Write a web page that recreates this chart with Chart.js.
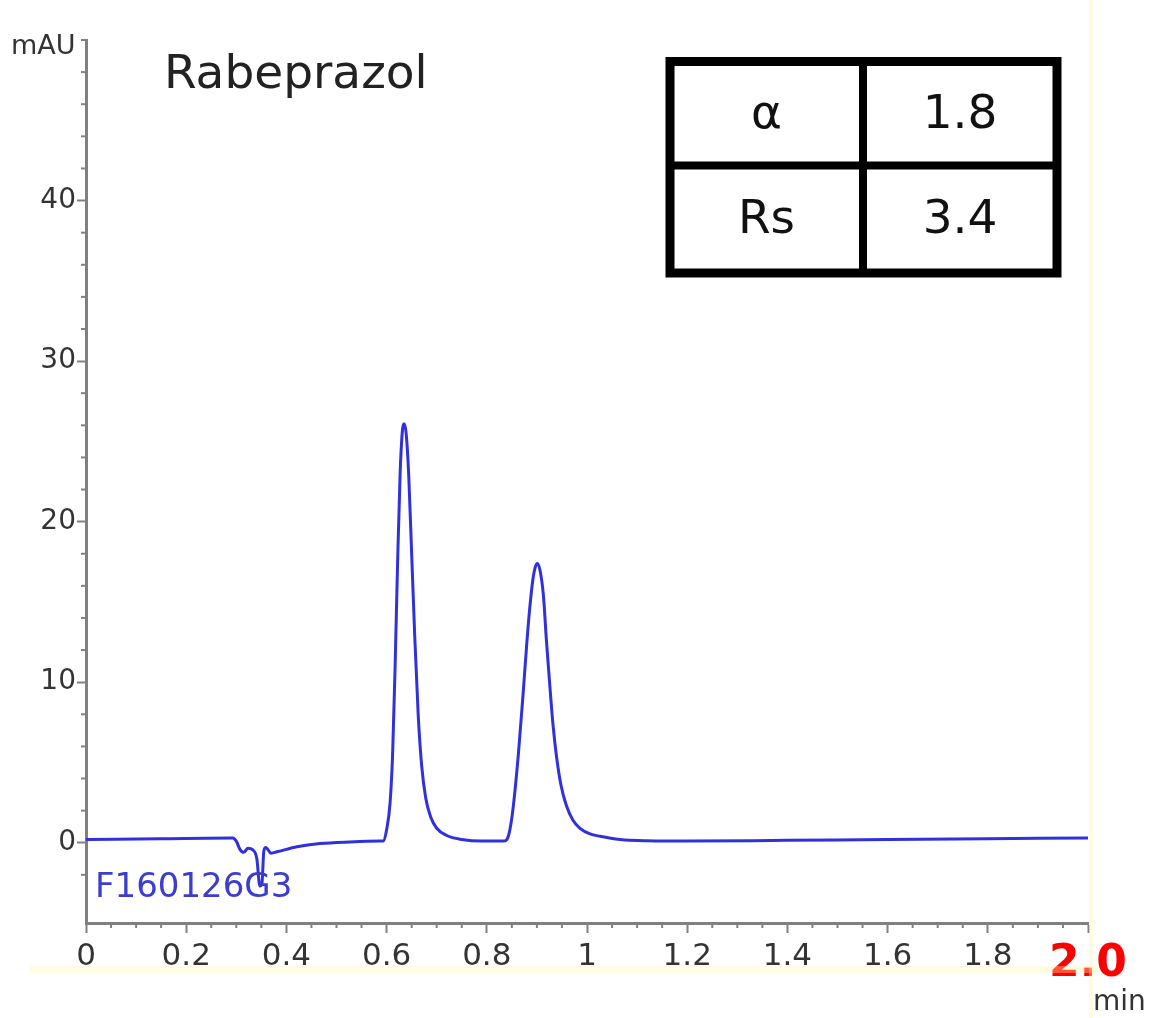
<!DOCTYPE html>
<html>
<head>
<meta charset="utf-8">
<script src="https://cdn.jsdelivr.net/npm/chart.js@4.4.1/dist/chart.umd.min.js"></script>
<style>
  body { margin: 0; background: #fff; }
  #chart { display: block; }
</style>
</head>
<body>
<canvas id="chart" width="1159" height="1018"></canvas>
<script>
// chromatogram trace (time in min, signal in mAU)
const times = [
    0.000, 0.148, 0.293, 0.300, 0.307, 0.315, 0.323, 0.333, 0.341, 0.347,
    0.351, 0.355, 0.359, 0.369, 0.383, 0.421, 0.467, 0.527, 0.587,
    0.593, 0.600, 0.607, 0.612, 0.617, 0.622, 0.627, 0.632, 0.635, 0.639,
    0.644, 0.650, 0.656, 0.663, 0.670, 0.678, 0.688, 0.700, 0.720, 0.750,
    0.790, 0.833,
    0.840, 0.846, 0.853, 0.863, 0.873, 0.880, 0.886, 0.892, 0.897, 0.901,
    0.906, 0.913, 0.919, 0.926, 0.932, 0.939, 0.948, 0.959, 0.972, 0.986,
    1.006, 1.026, 1.066, 1.120, 1.200, 1.400, 1.600, 1.800, 2.000
];
const signal = [
    0.2, 0.25, 0.3, 0.1, -0.4, -0.6, -0.35, -0.45, -1.0, -2.7,
    -2.6, -0.5, -0.3, -0.65, -0.55, -0.25, -0.05, 0.05, 0.1,
    0.1, 0.8, 2.5, 5.5, 11.0, 17.5, 23.0, 25.8, 26.1, 25.5,
    23.0, 18.0, 13.0, 8.0, 4.8, 2.8, 1.6, 0.9, 0.45, 0.2,
    0.1, 0.1,
    0.2, 0.8, 2.3, 5.5, 9.5, 12.5, 14.7, 16.4, 17.2, 17.4,
    17.0, 15.4, 12.6, 9.7, 7.4, 5.4, 3.6, 2.3, 1.4, 0.9,
    0.55, 0.4, 0.2, 0.12, 0.1, 0.15, 0.2, 0.25, 0.3
];

const xTickLabels = ['0', '0.2', '0.4', '0.6', '0.8', '1', '1.2', '1.4', '1.6', '1.8', '2.0'];
const yTickLabels = ['0', '10', '20', '30', '40'];

const tableRows = [
    ['\u03b1', '1.8'],
    ['Rs', '3.4']
];

const axisGray = '#808080';
const labelGray = '#333333';
const traceBlue = '#3030dc';

function isMajorX(v) {
    const i = Math.round(v / 0.2);
    return Math.abs(v - i * 0.2) < 1e-6 && i >= 0 && i < xTickLabels.length;
}
function isMajorY(v) {
    const i = Math.round(v / 10);
    return Math.abs(v - i * 10) < 1e-6 && i >= 0 && i < yTickLabels.length;
}

// short ticks between the labelled ones, plus the texts and the table
const decorations = {
    id: 'decorations',
    afterDraw(chart) {
        const ctx = chart.ctx;
        const xs = chart.scales.x;
        const ys = chart.scales.y;
        const area = chart.chartArea;
        ctx.save();

        // faint yellow scan lines seen in the picture
        ctx.fillStyle = 'rgba(255, 245, 170, 0.35)';
        ctx.fillRect(area.right + 1, 0, 4, chart.height);
        ctx.fillRect(30, 966, area.right - 20, 7);

        ctx.strokeStyle = axisGray;
        ctx.lineWidth = 2;
        xs.ticks.forEach(t => {
            if (isMajorX(t.value)) return;
            const px = xs.getPixelForValue(t.value);
            ctx.beginPath();
            ctx.moveTo(px, area.bottom);
            ctx.lineTo(px, area.bottom + 5);
            ctx.stroke();
        });
        ys.ticks.forEach(t => {
            if (isMajorY(t.value) || Math.abs(t.value % 2) > 1e-6) return;
            const py = ys.getPixelForValue(t.value);
            ctx.beginPath();
            ctx.moveTo(area.left - 5, py);
            ctx.lineTo(area.left, py);
            ctx.stroke();
        });

        ctx.textBaseline = 'alphabetic';
        ctx.textAlign = 'left';

        ctx.fillStyle = labelGray;
        ctx.font = '27px "DejaVu Sans"';
        ctx.fillText('mAU', 11, 54);

        ctx.font = '28px "DejaVu Sans"';
        ctx.fillText('min', 1093, 1010);

        ctx.fillStyle = '#222222';
        ctx.font = '47px "DejaVu Sans"';
        ctx.fillText('Rabeprazol', 164, 88);

        ctx.fillStyle = '#3c3cd0';
        ctx.font = '34px "DejaVu Sans"';
        ctx.fillText('F160126G3', 95, 897);

        // alpha / Rs table
        const left = 670, right = 1057, top = 61.5, bottom = 273;
        const midX = 863, midY = 165.5;
        ctx.fillStyle = '#ffffff';
        ctx.fillRect(left, top, right - left, bottom - top);
        ctx.strokeStyle = '#000000';
        ctx.lineWidth = 9;
        ctx.strokeRect(left, top, right - left, bottom - top);
        ctx.lineWidth = 8;
        ctx.beginPath();
        ctx.moveTo(midX, top); ctx.lineTo(midX, bottom);
        ctx.moveTo(left, midY); ctx.lineTo(right, midY);
        ctx.stroke();

        ctx.fillStyle = '#111111';
        ctx.font = '47px "DejaVu Sans"';
        ctx.textAlign = 'center';
        ctx.textBaseline = 'middle';
        const colX = [(left + midX) / 2, (midX + right) / 2];
        const rowY = [(top + midY) / 2 + 2, (midY + bottom) / 2 + 2];
        tableRows.forEach((row, r) => {
            row.forEach((txt, c) => ctx.fillText(txt, colX[c], rowY[r]));
        });

        ctx.restore();
    }
};

const ctx = document.getElementById('chart').getContext('2d');
new Chart(ctx, {
    type: 'line',
    data: {
        datasets: [{
            data: times.map((t, i) => ({ x: t, y: signal[i] })),
            borderColor: traceBlue,
            borderWidth: 3,
            pointRadius: 0,
            fill: false,
            cubicInterpolationMode: 'monotone'
        }]
    },
    options: {
        responsive: false,
        animation: false,
        devicePixelRatio: 1,
        layout: {
            padding: { top: 40, right: 71, left: 0, bottom: 0 }
        },
        plugins: {
            legend: { display: false },
            tooltip: { enabled: false }
        },
        scales: {
            x: {
                type: 'linear',
                min: 0,
                max: 2,
                afterFit: (scale) => { scale.height = 95; },
                border: { color: axisGray, width: 3 },
                grid: {
                    drawOnChartArea: false,
                    tickLength: 10,
                    tickWidth: 2,
                    tickColor: (c) => (c.tick && isMajorX(c.tick.value)) ? axisGray : 'rgba(0,0,0,0)'
                },
                ticks: {
                    stepSize: 0.05,
                    autoSkip: false,
                    maxRotation: 0,
                    padding: 5,
                    color: (c) => (c.tick && Math.abs(c.tick.value - 2) < 1e-6) ? '#ff0000' : labelGray,
                    font: (c) => (c.tick && Math.abs(c.tick.value - 2) < 1e-6)
                        ? { family: 'DejaVu Sans', size: 44, weight: 'bold' }
                        : { family: 'DejaVu Sans', size: 31 },
                    callback: (value) => {
                        if (!isMajorX(value)) return '';
                        return xTickLabels[Math.round(value / 0.2)];
                    }
                }
            },
            y: {
                min: -5,
                max: 50,
                afterFit: (scale) => { scale.width = 86; },
                border: { color: axisGray, width: 3 },
                grid: {
                    drawOnChartArea: false,
                    tickLength: 9,
                    tickWidth: 2,
                    tickColor: (c) => (c.tick && isMajorY(c.tick.value)) ? axisGray : 'rgba(0,0,0,0)'
                },
                ticks: {
                    stepSize: 2,
                    autoSkip: false,
                    padding: 1,
                    color: labelGray,
                    font: { family: 'DejaVu Sans', size: 28 },
                    callback: (value) => {
                        if (!isMajorY(value)) return '';
                        return yTickLabels[Math.round(value / 10)];
                    }
                }
            }
        }
    },
    plugins: [decorations]
});
</script>
</body>
</html>
